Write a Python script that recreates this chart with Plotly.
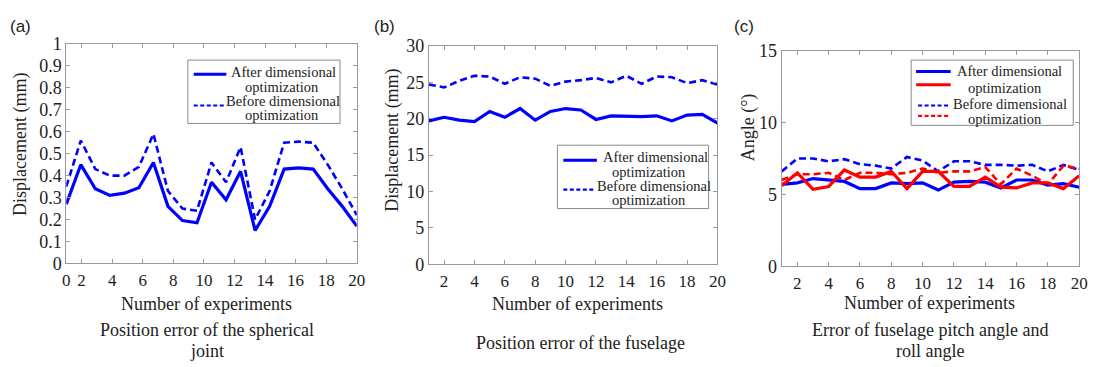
import plotly.graph_objects as go

W, H = 1101, 367

# ---------------- data ----------------
# panel (a): 21 experiments, positions on the drawn axis
exp_a = [1, 1.95, 2.9, 3.85, 4.8, 5.75, 6.7, 7.65, 8.6, 9.55, 10.5,
         11.45, 12.4, 13.35, 14.3, 15.25, 16.2, 17.15, 18.1, 19.05, 20]
a_after = [0.27, 0.45, 0.34, 0.31, 0.32, 0.345, 0.46, 0.26, 0.195, 0.185, 0.37,
           0.29, 0.42, 0.15, 0.26, 0.43, 0.435, 0.43, 0.34, 0.26, 0.17]
a_before = [0.35, 0.56, 0.43, 0.40, 0.40, 0.44, 0.59, 0.33, 0.25, 0.24, 0.46,
            0.37, 0.53, 0.20, 0.33, 0.55, 0.555, 0.55, 0.45, 0.34, 0.22]

# panels (b), (c): experiments 1..20
exp_bc = list(range(1, 21))
b_after = [19.7, 20.2, 19.8, 19.6, 21.0, 20.2, 21.4, 19.8, 21.0, 21.4,
           21.2, 19.9, 20.4, 20.3, 20.3, 20.4, 19.7, 20.5, 20.6, 19.4]
b_before = [24.7, 24.3, 25.2, 25.9, 25.8, 24.8, 25.7, 25.5, 24.5, 25.1,
            25.3, 25.6, 25.0, 25.9, 24.8, 25.8, 25.7, 24.9, 25.3, 24.7]

c_after_blue = [5.7, 5.8, 6.1, 6.0, 5.9, 5.4, 5.4, 5.8, 5.75, 5.8,
                5.3, 5.85, 5.9, 5.85, 5.45, 6.0, 6.0, 5.65, 5.75, 5.5]
c_after_red = [5.6, 6.5, 5.35, 5.55, 6.7, 6.2, 6.2, 6.6, 5.4, 6.6,
               6.6, 5.55, 5.55, 6.2, 5.5, 5.45, 5.8, 5.8, 5.4, 6.3]
c_before_blue = [6.6, 7.5, 7.5, 7.3, 7.45, 7.1, 7.0, 6.8, 7.6, 7.35,
                 6.6, 7.3, 7.3, 7.05, 7.05, 7.0, 7.05, 6.6, 7.05, 6.7]
c_before_red = [6.0, 6.4, 6.4, 6.5, 6.0, 6.5, 6.5, 6.4, 6.5, 6.8,
                6.5, 6.6, 6.6, 6.9, 5.7, 6.8, 6.3, 5.7, 7.0, 6.8]

# tick labels
a_xtickvals = [1, 2, 4, 6, 8, 10, 12, 14, 16, 18, 20]
a_xticktext = ["0", "2", "4", "6", "8", "10", "12", "14", "16", "18", "20"]
bc_xtickvals = [2, 4, 6, 8, 10, 12, 14, 16, 18, 20]
a_ytickvals = [0, 0.1, 0.2, 0.3, 0.4, 0.5, 0.6, 0.7, 0.8, 0.9, 1]
a_yticktext = ["0", "0.1", "0.2", "0.3", "0.4", "0.5", "0.6", "0.7", "0.8", "0.9", "1"]
b_ytickvals = [0, 5, 10, 15, 20, 25, 30]
c_ytickvals = [0, 5, 10, 15]

BLUE = "rgb(0,0,255)"
RED = "rgb(255,0,0)"
SOLID_W = 3.2
DASH_W = 2.6
DASH = "7px,4px"
LEG_DASH = "4px,2.5px"

SERIF = "Liberation Serif, Times New Roman, serif"
TXT = "#222"


def px(x):
    return x / W


def py(y):
    return 1 - y / H


fig = go.Figure()

# (a)
fig.add_trace(go.Scatter(x=exp_a, y=a_after, mode="lines", name="After dimensional optimization",
                         line=dict(color=BLUE, width=SOLID_W), xaxis="x", yaxis="y"))
fig.add_trace(go.Scatter(x=exp_a, y=a_before, mode="lines", name="Before dimensional optimization",
                         line=dict(color=BLUE, width=DASH_W, dash=DASH), xaxis="x", yaxis="y"))
# (b)
fig.add_trace(go.Scatter(x=exp_bc, y=b_after, mode="lines", name="After dimensional optimization",
                         line=dict(color=BLUE, width=SOLID_W), xaxis="x2", yaxis="y2"))
fig.add_trace(go.Scatter(x=exp_bc, y=b_before, mode="lines", name="Before dimensional optimization",
                         line=dict(color=BLUE, width=DASH_W, dash=DASH), xaxis="x2", yaxis="y2"))
# (c)
fig.add_trace(go.Scatter(x=exp_bc, y=c_before_blue, mode="lines", name="Before (blue)",
                         line=dict(color=BLUE, width=DASH_W, dash=DASH), xaxis="x3", yaxis="y3"))
fig.add_trace(go.Scatter(x=exp_bc, y=c_before_red, mode="lines", name="Before (red)",
                         line=dict(color=RED, width=DASH_W, dash=DASH), xaxis="x3", yaxis="y3"))
fig.add_trace(go.Scatter(x=exp_bc, y=c_after_blue, mode="lines", name="After (blue)",
                         line=dict(color=BLUE, width=SOLID_W), xaxis="x3", yaxis="y3"))
fig.add_trace(go.Scatter(x=exp_bc, y=c_after_red, mode="lines", name="After (red)",
                         line=dict(color=RED, width=SOLID_W), xaxis="x3", yaxis="y3"))

axis_common = dict(showline=True, linecolor="#9a9a9a", linewidth=1, mirror="ticks",
                   ticks="inside", ticklen=4, tickcolor="#9a9a9a", showgrid=False,
                   zeroline=False)

# panel pixel boxes: (left, right, top, bottom)
boxes = {
    "a": (63, 357, 36, 268),
    "b": (430, 722, 38, 269),
    "c": (787, 1088, 43, 271),
}

layout = dict(
    width=W, height=H, margin=dict(l=0, r=0, t=0, b=0),
    paper_bgcolor="white", plot_bgcolor="white", showlegend=False,
)

for key, xa, ya in [("a", "xaxis", "yaxis"), ("b", "xaxis2", "yaxis2"), ("c", "xaxis3", "yaxis3")]:
    l, r, t, b = boxes[key]
    layout[xa] = dict(axis_common, domain=[px(l), px(r)], range=[1, 20],
                      anchor=ya.replace("axis", ""), ticklabelstandoff=1,
                      tickfont=dict(family=SERIF, size=17, color=TXT))
    layout[ya] = dict(axis_common, domain=[py(b), py(t)], anchor=xa.replace("axis", ""),
                      tickfont=dict(family=SERIF, size=18, color=TXT))

layout["xaxis"].update(tickvals=a_xtickvals, ticktext=a_xticktext)
layout["xaxis2"].update(tickvals=bc_xtickvals)
layout["xaxis3"].update(tickvals=bc_xtickvals)
layout["yaxis"].update(range=[0, 1], tickvals=a_ytickvals, ticktext=a_yticktext)
layout["yaxis2"].update(range=[0, 30], tickvals=b_ytickvals)
layout["yaxis3"].update(range=[0, 15], tickvals=c_ytickvals)

fig.update_layout(**layout)

ann = []
shapes = []


def text(t, x, y, size=18, anchor="center", angle=0, family=SERIF):
    ann.append(dict(text=t, x=px(x), y=py(y), xanchor=anchor, yanchor="middle",
                    textangle=angle, xref="paper", yref="paper", showarrow=False,
                    font=dict(family=family, size=size, color=TXT)))


def box(x0, y0, x1, y1):
    shapes.append(dict(type="rect", xref="paper", yref="paper", x0=px(x0), x1=px(x1),
                       y0=py(y1), y1=py(y0), line=dict(color="#8a8a8a", width=1),
                       fillcolor="white", layer="above"))


def sample(x0, x1, y, color, width, dash="solid"):
    shapes.append(dict(type="line", xref="paper", yref="paper", x0=px(x0), x1=px(x1),
                       y0=py(y), y1=py(y), line=dict(color=color, width=width, dash=dash),
                       layer="above"))


# panel letters
for t, x in [("(a)", 4), ("(b)", 372), ("(c)", 737)]:
    text(t, x, 17, size=17, anchor="left", family="Liberation Sans, Arial, sans-serif")

# y titles
text("Displacement (mm)", 16, 142, angle=-90)
text("Displacement (mm)", 393, 138, angle=-90)
text("Angle (°)", 753, 124, angle=-90)

# x titles and captions
text("Number of experiments", 205, 311)
text("Number of experiments", 580, 311)
text("Number of experiments", 937, 310)
text("Position error of the spherical", 205, 338)
text("joint", 205, 361)
text("Position error of the fuselage", 583, 352)
text("Error of fuselage pitch angle and", 937, 338)
text("roll angle", 937, 361)

LS = 14.5  # legend font size
# legend (a)
box(186, 53, 340, 120)
sample(192, 225, 68, BLUE, 3)
text("After dimensional", 228, 66, LS, "left")
text("optimization", 281, 81, LS)
sample(192, 225, 101, BLUE, 2.2, LEG_DASH)
text("Before dimensional", 223, 96, LS, "left")
text("optimization", 281, 111, LS)

# legend (b)
box(560, 143, 713, 210)
sample(566, 600, 159, BLUE, 3)
text("After dimensional", 604, 156, LS, "left")
text("optimization", 653, 171, LS)
sample(566, 598, 190, BLUE, 2.2, LEG_DASH)
text("Before dimensional", 598, 186, LS, "left")
text("optimization", 653, 201, LS)

# legend (c)
box(918, 53, 1082, 122)
sample(923, 958, 65, BLUE, 3)
text("After dimensional", 962, 65, LS, "left")
sample(923, 958, 79, RED, 3)
text("optimization", 1013, 82, LS)
sample(925, 958, 101, BLUE, 2.2, LEG_DASH)
text("Before dimensional", 958, 99, LS, "left")
sample(925, 958, 112, RED, 2.2, LEG_DASH)
text("optimization", 1013, 115, LS)

fig.update_layout(annotations=ann, shapes=shapes)

fig.write_html("out.html")
